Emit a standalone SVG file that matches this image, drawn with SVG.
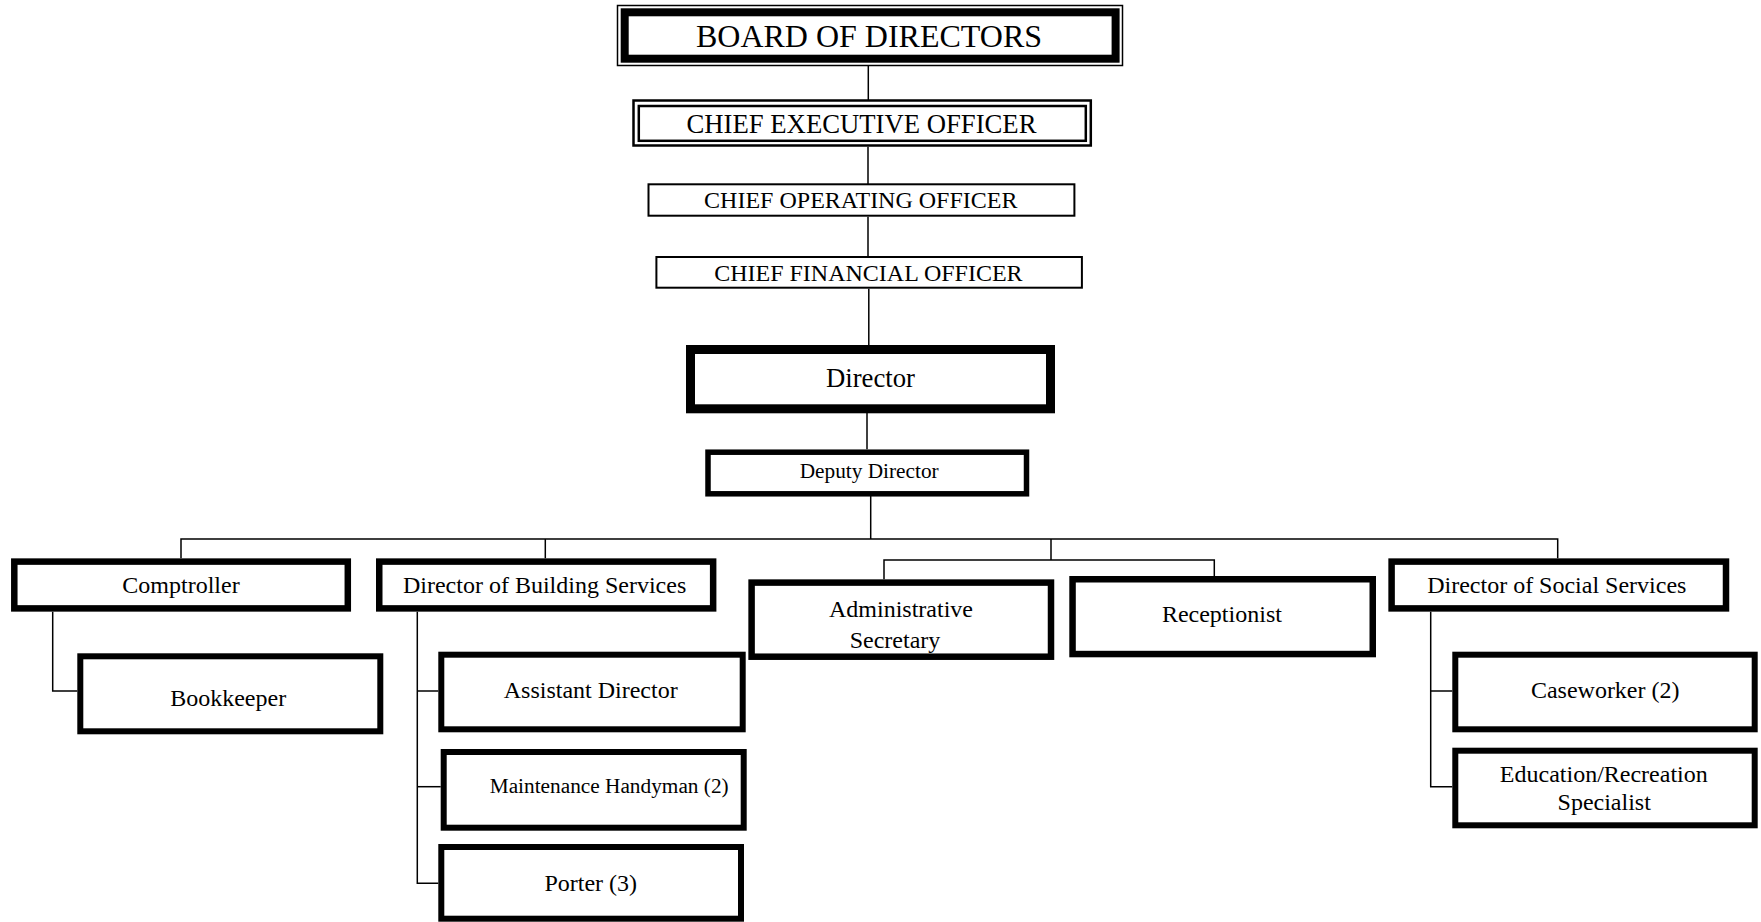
<svg xmlns="http://www.w3.org/2000/svg" width="1761" height="922" viewBox="0 0 1761 922">
<style>
rect{fill:none;stroke:#000}
.t{font-family:"Liberation Serif","Times New Roman",serif;fill:#000;text-anchor:middle}
.s24{font-size:24px}
.s21{font-size:21.3px}
.s27{font-size:26.7px}
.k{stroke-width:6.5}
.k6{stroke-width:6}
#connectors path{fill:none;stroke:#000;stroke-width:1.5}
</style>
<rect x="0" y="0" width="1761" height="922" fill="#fff" style="fill:#fff;stroke:none"/>
<g id="connectors">
<path d="M868.3 66V100"/>
<path d="M868 146.7V184"/>
<path d="M868 216.7V256"/>
<path d="M868.8 288.7V345"/>
<path d="M867 413V449.3"/>
<path d="M870.7 496V539"/>
<path d="M181 558.3V539H1557.7V558.3"/>
<path d="M545.3 539V558.3"/>
<path d="M1051 539V560"/>
<path d="M884 579.3V560H1214.3V576.7"/>
<path d="M52.7 611.7V691H77.3"/>
<path d="M417.3 611.7V883.3H438.3"/>
<path d="M417.3 691H438.3"/>
<path d="M417.3 786.7H440.7"/>
<path d="M1430.7 611.7V786.7H1452.3"/>
<path d="M1430.7 691H1452.3"/>
</g>
<g id="board">
<rect x="617.5" y="5.5" width="505" height="60" stroke-width="1.5"/>
<rect x="624.7" y="12.3" width="490.9" height="46.4" stroke-width="8"/>
<text class="t" x="869" y="46.7" font-size="32">BOARD OF DIRECTORS</text>
</g>
<g id="ceo">
<rect x="633.5" y="100.5" width="457.3" height="45" stroke-width="2.5"/>
<rect x="638.8" y="106" width="447" height="34.8" stroke-width="2.5"/>
<text class="t s27" x="861.5" y="132.7">CHIEF EXECUTIVE OFFICER</text>
</g>
<g id="coo">
<rect x="648.5" y="184.3" width="425.9" height="31.4" stroke-width="2"/>
<text class="t s24" x="860.8" y="208.3">CHIEF OPERATING OFFICER</text>
</g>
<g id="cfo">
<rect x="656.4" y="257" width="425.5" height="30.7" stroke-width="2"/>
<text class="t s24" x="868.4" y="281">CHIEF FINANCIAL OFFICER</text>
</g>
<g id="director">
<rect x="690.5" y="349.5" width="360" height="59.3" stroke-width="9"/>
<text class="t s27" x="870.5" y="386.7">Director</text>
</g>
<g id="deputy">
<rect x="708" y="452.2" width="318.5" height="41.6" stroke-width="5.5"/>
<text class="t s21" x="869.2" y="477.7">Deputy Director</text>
</g>
<g id="comptroller">
<rect class="k" x="14.3" y="561.6" width="333.5" height="46.8"/>
<text class="t s24" x="181" y="592.7">Comptroller</text>
</g>
<g id="bookkeeper">
<rect class="k6" x="80.3" y="656.3" width="300" height="75"/>
<text class="t s24" x="228.2" y="705.7">Bookkeeper</text>
</g>
<g id="building">
<rect class="k" x="379.25" y="561.6" width="333.9" height="46.8"/>
<text class="t s24" x="544.6" y="592.7">Director of Building Services</text>
</g>
<g id="assistant">
<rect class="k6" x="441.3" y="654.7" width="301.4" height="74.6"/>
<text class="t s24" x="590.7" y="698">Assistant Director</text>
</g>
<g id="maintenance">
<rect class="k6" x="443.7" y="752" width="300" height="75.7"/>
<text class="t s21" x="609.2" y="793.3">Maintenance Handyman (2)</text>
</g>
<g id="porter">
<rect class="k6" x="441.3" y="847" width="299.7" height="71.7"/>
<text class="t s24" x="590.7" y="890.7">Porter (3)</text>
</g>
<g id="admin">
<rect class="k" x="751.6" y="582.6" width="299.4" height="74.1"/>
<text class="t s24" x="901" y="616.7">Administrative</text>
<text class="t s24" x="895" y="648.3">Secretary</text>
</g>
<g id="receptionist">
<rect class="k" x="1072.55" y="579.25" width="300.2" height="74.8"/>
<text class="t s24" x="1221.9" y="621.7">Receptionist</text>
</g>
<g id="social">
<rect class="k" x="1391.6" y="561.6" width="334.4" height="46.8"/>
<text class="t s24" x="1556.8" y="592.7">Director of Social Services</text>
</g>
<g id="caseworker">
<rect class="k6" x="1455.3" y="654.7" width="299.4" height="74.6"/>
<text class="t s24" x="1605.2" y="697.7">Caseworker (2)</text>
</g>
<g id="education">
<rect class="k6" x="1455.3" y="750.7" width="299.4" height="74.6"/>
<text class="t s24" x="1603.8" y="781.7">Education/Recreation</text>
<text class="t s24" x="1604.2" y="810">Specialist</text>
</g>
</svg>
